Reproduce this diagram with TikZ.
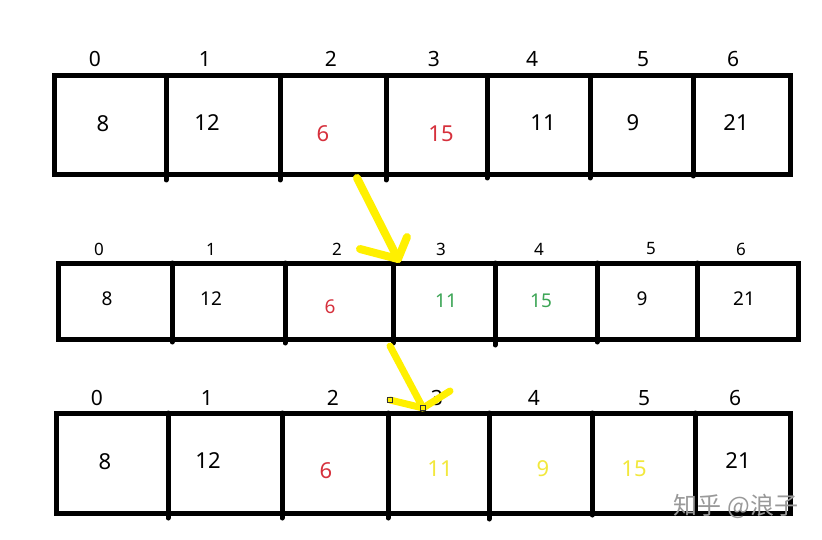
\documentclass[tikz,border=0pt]{standalone}
\usepackage{fontspec}
\setmainfont{Noto Sans}
\newfontfamily\cjk{Noto Sans CJK SC}
\definecolor{redv}{RGB}{214,48,60}
\definecolor{greenv}{RGB}{60,165,85}
\definecolor{yelv}{RGB}{242,232,60}
\definecolor{arrowy}{RGB}{255,240,0}
\begin{document}
\begin{tikzpicture}[x=1pt,y=-1pt,
  cellline/.style={line width=5pt,line cap=round},
  framebox/.style={line width=5pt},
  idxA/.style={font=\fontsize{21}{21}\selectfont,inner sep=0pt},
  valA/.style={font=\fontsize{22}{22}\selectfont,inner sep=0pt},
  idxB/.style={font=\fontsize{17}{17}\selectfont,inner sep=0pt},
  valB/.style={font=\fontsize{19}{19}\selectfont,inner sep=0pt},
  yarrow/.style={arrowy,line width=8pt,line cap=round,line join=round},
  handle/.style={draw=black!80,fill=arrowy,line width=0.8pt,minimum size=5pt,inner sep=0pt}
]
\useasboundingbox (0,0) rectangle (822,540);
\fill[white] (0,0) rectangle (822,540);

% ---------- row 1 ----------
\draw[framebox] (54,76) rectangle (790,175);
\foreach \x/\b in {166/180,280/180,386/180,487/178,590/178,693/176}
  \draw[cellline] (\x,76) -- (\x,\b);
\node[idxA] (a0) at (95,59) {0};
\node[idxA] (a1) at (205,59) {1};
\node[idxA] (a2) at (331,59) {2};
\node[idxA] (a3) at (434,59) {3};
\node[idxA] (a4) at (532,59) {4};
\node[idxA] (a5) at (643,59) {5};
\node[idxA] (a6) at (733,59) {6};
\node[valA] (v10) at (103,124) {8};
\node[valA] (v11) at (207,123) {12};
\node[valA,text=redv] (v12) at (323,134) {6};
\node[valA,text=redv] (v13) at (441,134) {15};
\node[valA] (v14) at (543,123) {11};
\node[valA] (v15) at (633,123) {9};
\node[valA] (v16) at (736,123) {21};

% ---------- row 2 ----------
\draw[framebox] (58,263) rectangle (798,339);
\foreach \x/\b in {172/342,285/343,393/343,495/345,597/342,697/339}
  \draw[cellline] (\x,263) -- (\x,\b);
\node[idxB] (b0) at (99,249) {0};
\node[idxB] (b1) at (211,249) {1};
\node[idxB] (b2) at (337,249) {2};
\node[idxB] (b3) at (441,249) {3};
\node[idxB] (b4) at (539,249) {4};
\node[idxB] (b5) at (651,249) {5};
\node[idxB] (b6) at (741,249) {6};
\node[valB] (v20) at (107,299) {8};
\node[valB] (v21) at (211,299) {12};
\node[valB,text=redv] (v22) at (330,307) {6};
\node[valB,text=greenv] (v23) at (446,301) {11};
\node[valB,text=greenv] (v24) at (541,301) {15};
\node[valB] (v25) at (642,299) {9};
\node[valB] (v26) at (744,299) {21};

% ---------- row 3 ----------
\draw[framebox] (56,413) rectangle (790,513);
\foreach \x/\b in {168/518,282/518,388/518,489/519,592/515,695/513}
  \draw[cellline] (\x,413) -- (\x,\b);
\node[idxA] (c0) at (97,398) {0};
\node[idxA] (c1) at (207,398) {1};
\node[idxA] (c2) at (333,398) {2};
\node[idxA] (c3) at (437,398) {3};
\node[idxA] (c4) at (534,398) {4};
\node[idxA] (c5) at (644,398) {5};
\node[idxA] (c6) at (735,398) {6};
\node[valA] (v30) at (105,462) {8};
\node[valA] (v31) at (208,461) {12};
\node[valA,text=redv] (v32) at (326,471) {6};
\node[valA,text=yelv] (v33) at (440,469) {11};
\node[valA,text=yelv] (v34) at (543,469) {9};
\node[valA,text=yelv] (v35) at (634,469) {15};
\node[valA] (v36) at (738,461) {21};

% ---------- yellow arrows ----------
\coordinate (p1s) at (357,178);
\coordinate (p1t) at (398,259);
\coordinate (p1l) at (360,249);
\coordinate (p1r) at (407,237);
\draw[yarrow] (p1s) -- (p1t);
\draw[yarrow] (p1l) -- (p1t) -- (p1r);

\coordinate (p2s) at (390,346);
\coordinate (p2t) at (423,408);
\coordinate (p2l) at (390,400);
\coordinate (p2r) at (450,391);
\draw[yarrow,line width=7pt] (p2s) -- (p2t);
\draw[yarrow,line width=7pt] (p2l) -- (p2t) -- (p2r);
\node[handle] (h1) at (p2l) {};
\node[handle] (h2) at (p2t) {};

% ---------- watermark ----------
\node[font=\cjk\fontsize{24}{24}\selectfont,text=black!40,inner sep=0pt] (wm) at (736,506) {知乎 @浪子};
\end{tikzpicture}
\end{document}
